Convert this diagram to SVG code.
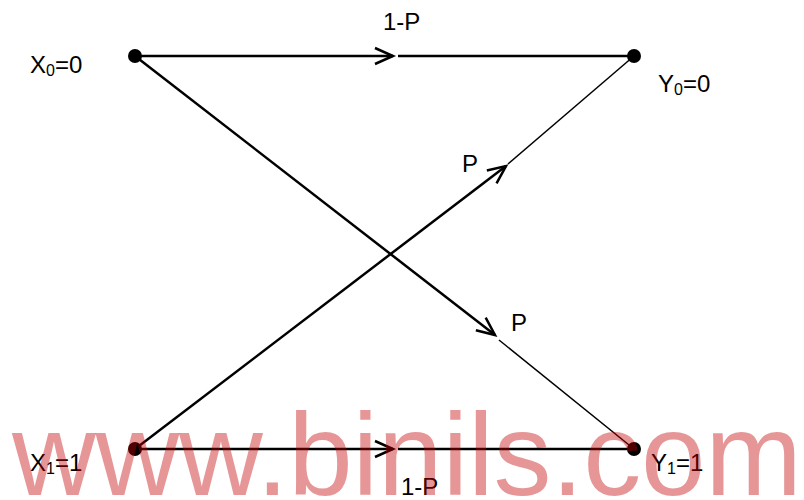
<svg xmlns="http://www.w3.org/2000/svg" width="804" height="500" viewBox="0 0 804 500">
<style>
.ln{fill:none;stroke:#000;stroke-width:2.5}
.thin{fill:none;stroke:#000;stroke-width:1.5}
.node{fill:#000}
.lbl{font-family:"Liberation Sans",Arial,sans-serif;font-size:24px;fill:#000}
.sub{font-size:16px}
.wm{font-family:"Liberation Sans",Arial,sans-serif;font-size:116px;fill:#c20000;fill-opacity:0.41}
</style>
<defs>
<marker id="arr" markerUnits="userSpaceOnUse" markerWidth="40" markerHeight="40" refX="0" refY="0" orient="auto" overflow="visible">
<path d="M-18,-8 L0,0 L-18,8" fill="none" stroke="#000" stroke-width="2.5"/>
</marker>
</defs>
<rect width="804" height="500" fill="#fff"/>
<g id="connectors">
<path class="ln" d="M135,56 L393,56" marker-end="url(#arr)"/>
<path class="ln" d="M398,56 L634,56"/>
<path class="ln" d="M135,56 L495,335" marker-end="url(#arr)"/>
<path class="thin" d="M499,340 L634,449"/>
<path class="ln" d="M135,449 L506,166" marker-end="url(#arr)"/>
<path class="thin" d="M508,164 L634,56"/>
<path class="ln" d="M135,449 L393,449" marker-end="url(#arr)"/>
<path class="ln" d="M398,449 L634,449"/>
</g>
<g id="X0"><circle class="node" cx="135" cy="56" r="7"/><text class="lbl" x="30" y="73">X<tspan class="sub" dy="3">0</tspan><tspan dy="-3">=0</tspan></text></g>
<g id="Y0"><circle class="node" cx="634" cy="56" r="7"/><text class="lbl" x="658" y="92">Y<tspan class="sub" dy="3">0</tspan><tspan dy="-3">=0</tspan></text></g>
<g id="X1"><circle class="node" cx="135" cy="449" r="7"/><text class="lbl" x="30" y="471">X<tspan class="sub" dy="3">1</tspan><tspan dy="-3">=1</tspan></text></g>
<g id="Y1"><circle class="node" cx="634" cy="449" r="7"/><text class="lbl" x="651" y="471">Y<tspan class="sub" dy="3">1</tspan><tspan dy="-3">=1</tspan></text></g>
<g id="labels">
<text class="lbl" x="383" y="30">1-P</text>
<text class="lbl" x="462" y="172">P</text>
<text class="lbl" x="511" y="331">P</text>
<text class="lbl" x="401" y="495">1-P</text>
</g>
<text class="wm" x="12" y="495" textLength="790" lengthAdjust="spacing">www.binils.com</text>
</svg>
